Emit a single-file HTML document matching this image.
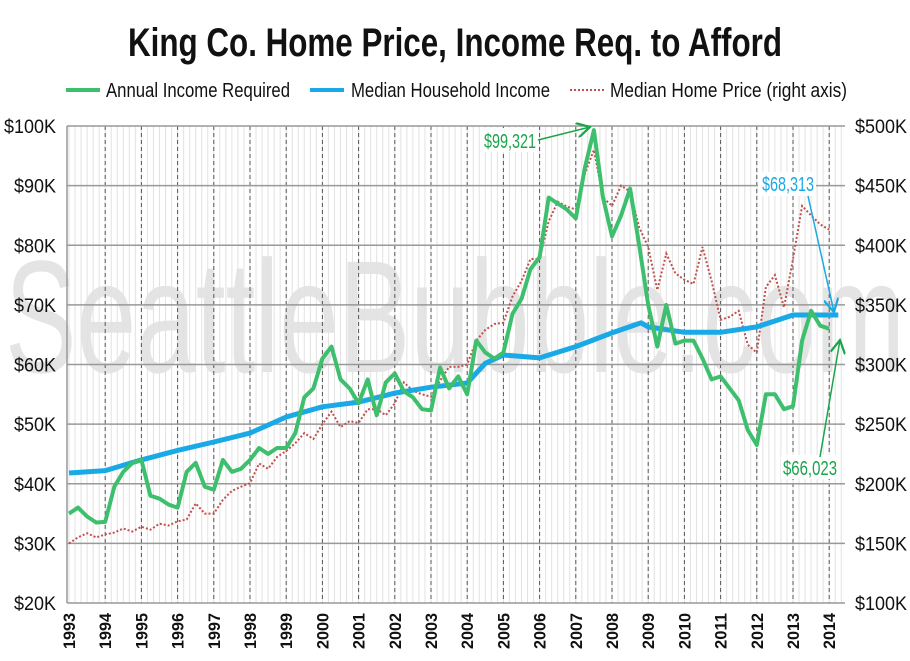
<!DOCTYPE html>
<html><head><meta charset="utf-8"><style>
html,body{margin:0;padding:0;background:#fff;}
svg{display:block;font-family:"Liberation Sans Narrow","Liberation Sans",sans-serif;}
</style></head><body>
<svg id="chart" width="910" height="661" viewBox="0 0 910 661">
<text x="455" y="56" text-anchor="middle" font-size="40" font-weight="bold" fill="#111" textLength="654" lengthAdjust="spacingAndGlyphs">King Co. Home Price, Income Req. to Afford</text>
<text x="455" y="372" text-anchor="middle" font-size="160" fill="#e4e4e4" textLength="900" lengthAdjust="spacingAndGlyphs">SeattleBubble.com</text>
<g id="grid"></g>
<g id="axes"></g>
<g id="series"></g>
<g>
 <g><line x1="66" y1="90" x2="100" y2="90" stroke="#3dbf6e" stroke-width="4"/><text x="106" y="97" font-size="20" fill="#111" textLength="184" lengthAdjust="spacingAndGlyphs">Annual Income Required</text></g>
 <g><line x1="310" y1="90" x2="344" y2="90" stroke="#19a9e6" stroke-width="4"/><text x="351" y="97" font-size="20" fill="#111" textLength="199" lengthAdjust="spacingAndGlyphs">Median Household Income</text></g>
 <g><line x1="570" y1="90" x2="604" y2="90" stroke="#c0504d" stroke-width="2" stroke-dasharray="2,2"/><text x="610" y="97" font-size="20" fill="#111" textLength="237" lengthAdjust="spacingAndGlyphs">Median Home Price (right axis)</text></g>
</g>
<g id="annot">
 <defs>
  <marker id="ag" markerWidth="10" markerHeight="10" refX="9" refY="5" orient="auto"><path d="M0,0 L9,5 L0,10" fill="none" stroke="#1aa54a" stroke-width="1.5"/></marker>
  <marker id="ab" markerWidth="10" markerHeight="10" refX="9" refY="5" orient="auto"><path d="M0,0 L9,5 L0,10" fill="none" stroke="#19a9e6" stroke-width="1.5"/></marker>
 </defs>
 <rect x="482" y="128" width="56" height="24" fill="#fff"/>
 <text x="484" y="148" font-size="20" fill="#1aa54a" textLength="52" lengthAdjust="spacingAndGlyphs">$99,321</text>
 <line x1="538" y1="140" x2="590" y2="127" stroke="#1aa54a" stroke-width="1.5" marker-end="url(#ag)"/>
 <rect x="758" y="172" width="58" height="24" fill="#fff"/>
 <text x="762" y="191" font-size="20" fill="#19a9e6" textLength="52" lengthAdjust="spacingAndGlyphs">$68,313</text>
 <line x1="808" y1="196" x2="834" y2="312" stroke="#19a9e6" stroke-width="1.5" marker-end="url(#ab)"/>
 <rect x="781" y="455" width="58" height="24" fill="#fff"/>
 <text x="783" y="475" font-size="20" fill="#1aa54a" textLength="54" lengthAdjust="spacingAndGlyphs">$66,023</text>
 <line x1="820" y1="457" x2="840" y2="340" stroke="#1aa54a" stroke-width="1.5" marker-end="url(#ag)"/>
</g>
</svg>
<script>
const quarterStart = 1993;
const incomeRequired = [35.0,36.0,34.5,33.5, 33.6,39.5,42.0,43.5, 44.0,38.0,37.5,36.5, 36.0,42.0,43.5,39.5, 39.0,44.0,42.0,42.5, 44.0,46.0,45.0,46.0, 46.0,48.5,54.5,56.0, 61.0,63.0,57.5,56.0, 53.5,57.5,51.5,57.0, 58.5,55.5,54.5,52.5, 52.3,59.5,56.0,58.0, 55.0,64.0,62.0,61.0, 62.0,68.5,71.0,76.0, 78.0,88.0,87.0,86.0, 84.5,93.0,99.3,88.0, 81.5,85.0,89.5,80.0, 70.0,63.0,70.0,63.5, 64.0,64.0,61.0,57.5, 58.0,56.0,54.0,49.0, 46.5,55.0,55.0,52.5, 53.0,64.0,69.0,66.5, 66.0];
const homePrice = [150,155,158.5,155, 157.5,159,162.5,160, 164,161.5,166.5,165, 168.5,170,183.5,175, 175,186.5,194,197.5, 200.5,217,212.5,222.5, 227.5,234,242.5,237.5, 250,260.5,247.5,252.5, 251,262.5,262.5,257.5, 267.5,285,278,275, 273,286.5,298,298, 300,320,329,334, 335,357,370,388.5, 388.5,420,436.5,432.5, 430,460,480,440, 433,450,445,415, 398.5,362.5,393,376.5, 371,367.5,398.5,370, 337.5,340,345,316.5, 310,365,375,348, 388.5,433,425,417.5, 413];
const incomeYears = [1993,1994,1995,1996,1997,1998,1999,2000,2001,2002,2003,2004,2004.5,2005,2006,2007,2008,2008.8,2009,2010,2011,2012,2013,2014.25];
const householdIncome = [41.8,42.2,44.0,45.6,47.0,48.5,51.2,52.9,53.7,55.2,56.2,56.9,60.2,61.6,61.1,63.0,65.3,67.0,66.3,65.4,65.4,66.3,68.3,68.3];
const leftTicks = [20,30,40,50,60,70,80,90,100];
const rightTicks = [100,150,200,250,300,350,400,450,500];
const yearLabels = [1993,1994,1995,1996,1997,1998,1999,2000,2001,2002,2003,2004,2005,2006,2007,2008,2009,2010,2011,2012,2013,2014];

const NS="http://www.w3.org/2000/svg";
const L=67,R=845,T=126,B=603;
function x(t){return 69+(t-1993)*36.2;}
function yL(v){return B-(v-20)/80*(B-T);}
function yR(v){return B-(v-100)/400*(B-T);}
function mk(tag,attrs,parent){const e=document.createElementNS(NS,tag);for(const k in attrs)e.setAttribute(k,attrs[k]);parent.appendChild(e);return e;}
const grid=document.getElementById('grid'),axes=document.getElementById('axes'),series=document.getElementById('series');
for(let t=1993;x(t)<R;t+=1/6){
  const e=mk('line',{x1:x(t),x2:x(t),y1:T,y2:B,stroke:'#e2e2e2','stroke-width':1},grid);
  
  
}
yearLabels.forEach(yr=>{
  if(yr>1993){const e=mk('line',{x1:x(yr),x2:x(yr),y1:T,y2:B,stroke:'#555','stroke-width':1,'stroke-dasharray':'4,3'},grid);
  
  }
  const tx=mk('text',{x:0,y:0,transform:`translate(${x(yr)+6},${649}) rotate(-90)`,'font-size':17,'font-weight':'bold',fill:'#111',textLength:36,lengthAdjust:'spacingAndGlyphs'},axes);
  tx.textContent=yr;
  
  
});
leftTicks.forEach(v=>{
  const e=mk('line',{x1:L,x2:R,y1:yL(v),y2:yL(v),stroke:'#999','stroke-width':1.5},grid);
  
  
  const tx=mk('text',{x:56,y:yL(v)+7,'text-anchor':'end','font-size':19,fill:'#111',textLength:v>=100?52:42,lengthAdjust:'spacingAndGlyphs'},axes);
  tx.textContent='$'+v+'K';
  
  
});
rightTicks.forEach(v=>{
  const tx=mk('text',{x:855,y:yR(v)+7,'font-size':19,fill:'#111',textLength:52,lengthAdjust:'spacingAndGlyphs'},axes);
  tx.textContent='$'+v+'K';
  
  
});
const ax=mk('line',{x1:L,x2:L,y1:T,y2:B,stroke:'#999','stroke-width':1.5},axes);


function path(xs,ys){return xs.map((a,i)=>(i?'L':'M')+a.toFixed(1)+','+ys[i].toFixed(1)).join(' ');}
const rp=mk('path',{d:path(homePrice.map((v,i)=>x(quarterStart+i/4)),homePrice.map(yR)),fill:'none',stroke:'#c0504d','stroke-width':2,'stroke-dasharray':'2,2'},series);


const bp=mk('path',{d:path(incomeYears.map(x),householdIncome.map(yL)),fill:'none',stroke:'#19a9e6','stroke-width':5,'stroke-linejoin':'round'},series);


const gp=mk('path',{d:path(incomeRequired.map((v,i)=>x(quarterStart+i/4)),incomeRequired.map(yL)),fill:'none',stroke:'#3dbf6e','stroke-width':4,'stroke-linejoin':'round'},series);


</script>
</body></html>
